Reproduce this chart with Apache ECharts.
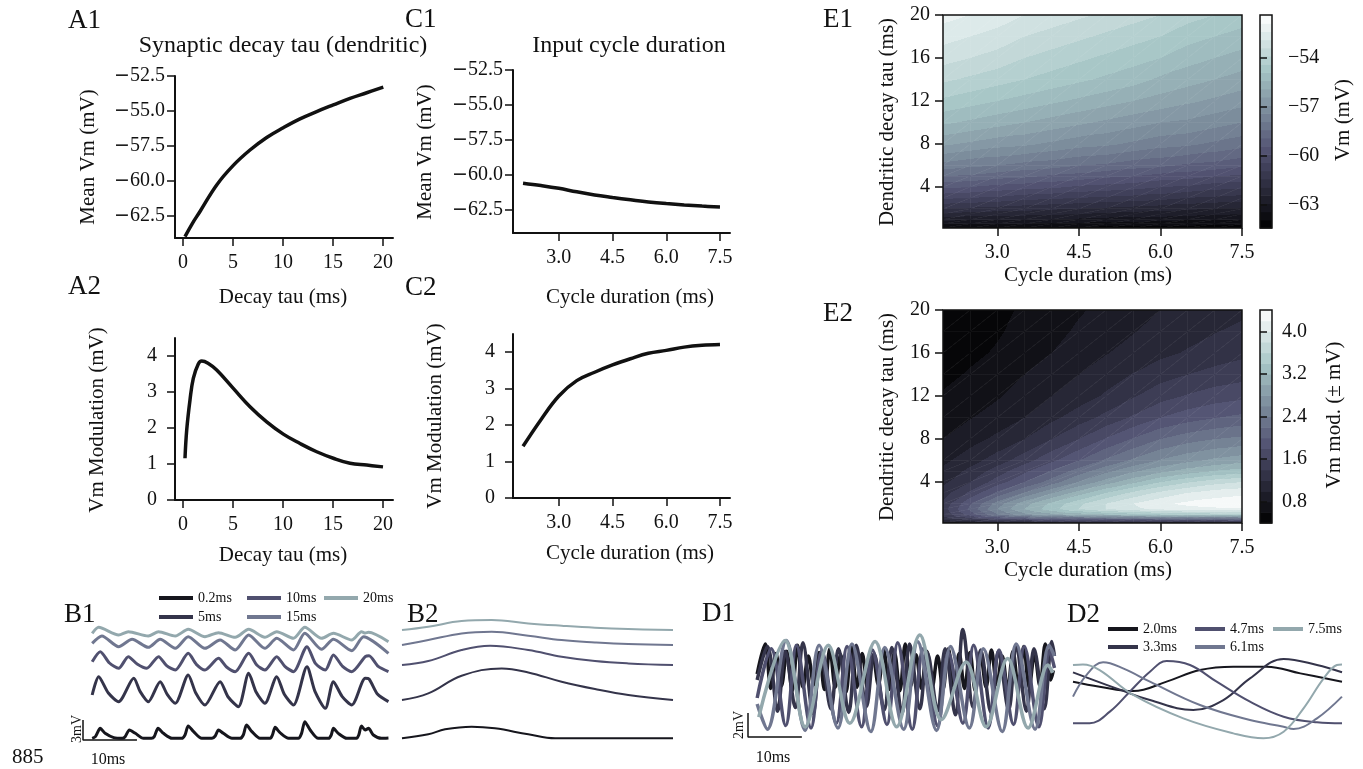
<!DOCTYPE html>
<html>
<head>
<meta charset="utf-8">
<script src="https://cdn.jsdelivr.net/npm/echarts@6.0.0/dist/echarts.min.js"></script>
<style>
  html, body { margin: 0; padding: 0; background: #fff; }
  #chart { width: 1363px; height: 769px; }
</style>
</head>
<body>
<div id="chart"></div>
<script>
const serif = '"Liberation Serif", "DejaVu Serif", serif'
const ink = '#111'

// A1 / A2 : sweep of dendritic decay tau
const tauA1 = [0.2, 0.9, 1.7, 3.37, 5.03, 6.7, 8.37, 10.03, 11.7, 13.37, 15.03, 16.7, 18.37, 20.03]
const meanVmA1 = [-64.0, -63.1, -62.2, -60.3, -58.9, -57.8, -56.9, -56.2, -55.57, -55.05, -54.57, -54.1, -53.7, -53.3]
const tauA2 = [0.2, 0.37, 0.7, 1.03, 1.53, 1.87, 2.5, 3.37, 5.03, 6.7, 8.37, 10.03, 11.7, 13.37, 15.03, 16.7, 18.37, 20.0]
const modA2 = [1.16, 1.94, 2.78, 3.38, 3.78, 3.86, 3.8, 3.61, 3.1, 2.59, 2.17, 1.83, 1.57, 1.34, 1.16, 1.02, 0.97, 0.92]

// C1 / C2 : sweep of input cycle duration
const cycleC = [2.0, 2.5, 3.0, 3.5, 4.0, 4.5, 5.0, 5.5, 6.0, 6.5, 7.0, 7.5]
const meanVmC1 = [-60.58, -60.75, -60.95, -61.2, -61.42, -61.6, -61.77, -61.92, -62.04, -62.14, -62.22, -62.28]
const modC2 = [1.42, 2.15, 2.8, 3.22, 3.45, 3.65, 3.82, 3.97, 4.05, 4.14, 4.19, 4.21]

// E1 / E2 : contour maps, rows go from tau 0.2 (bottom) up to tau 20 (top)
const cycleE = [2.0, 2.5, 3.0, 3.5, 4.0, 4.5, 5.0, 5.5, 6.0, 6.5, 7.0, 7.5]
const tauE = [0.2, 0.6, 1, 1.5, 2, 3, 4, 5, 6, 8, 10, 12, 14, 16, 18, 20]
const vmE1 = [
  [-63.9, -63.9, -64.0, -64.0, -64.0, -64.0, -64.1, -64.1, -64.1, -64.1, -64.2, -64.2],
  [-63.3, -63.3, -63.4, -63.4, -63.5, -63.5, -63.6, -63.6, -63.7, -63.7, -63.8, -63.8],
  [-62.7, -62.8, -62.8, -62.9, -62.9, -63.0, -63.1, -63.1, -63.2, -63.3, -63.3, -63.4],
  [-62.0, -62.1, -62.2, -62.2, -62.3, -62.4, -62.5, -62.6, -62.6, -62.7, -62.8, -62.9],
  [-61.4, -61.5, -61.6, -61.7, -61.8, -61.9, -62.0, -62.1, -62.2, -62.3, -62.4, -62.5],
  [-60.3, -60.4, -60.5, -60.7, -60.8, -60.9, -61.0, -61.1, -61.2, -61.4, -61.5, -61.6],
  [-59.3, -59.4, -59.6, -59.7, -59.8, -60.0, -60.1, -60.2, -60.4, -60.5, -60.7, -60.8],
  [-58.4, -58.5, -58.7, -58.8, -59.0, -59.1, -59.3, -59.4, -59.6, -59.7, -59.9, -60.0],
  [-57.6, -57.8, -57.9, -58.1, -58.2, -58.4, -58.5, -58.7, -58.8, -59.0, -59.1, -59.3],
  [-56.3, -56.5, -56.7, -56.8, -57.0, -57.2, -57.3, -57.5, -57.7, -57.8, -58.0, -58.2],
  [-55.3, -55.5, -55.7, -55.9, -56.1, -56.3, -56.5, -56.7, -56.9, -57.0, -57.2, -57.4],
  [-54.5, -54.7, -54.9, -55.1, -55.3, -55.5, -55.7, -55.9, -56.1, -56.3, -56.5, -56.7],
  [-53.8, -54.0, -54.2, -54.4, -54.6, -54.8, -55.0, -55.2, -55.5, -55.7, -55.9, -56.1],
  [-53.2, -53.4, -53.6, -53.9, -54.1, -54.3, -54.5, -54.7, -54.9, -55.2, -55.4, -55.6],
  [-52.7, -52.9, -53.1, -53.4, -53.6, -53.8, -54.0, -54.2, -54.4, -54.7, -54.9, -55.1],
  [-52.2, -52.4, -52.6, -52.9, -53.1, -53.3, -53.5, -53.7, -53.9, -54.2, -54.4, -54.6]
]
const modE2 = [
  [0.90, 0.95, 1.00, 1.05, 1.08, 1.10, 1.12, 1.13, 1.15, 1.16, 1.18, 1.20],
  [1.30, 1.55, 1.80, 1.95, 2.05, 2.10, 2.15, 2.18, 2.20, 2.22, 2.23, 2.25],
  [1.45, 1.90, 2.40, 2.75, 2.95, 3.10, 3.22, 3.32, 3.40, 3.45, 3.50, 3.52],
  [1.50, 2.05, 2.60, 3.00, 3.32, 3.60, 3.80, 3.95, 4.05, 4.12, 4.16, 4.18],
  [1.45, 1.98, 2.50, 2.92, 3.25, 3.55, 3.80, 4.00, 4.15, 4.25, 4.30, 4.32],
  [1.30, 1.65, 2.05, 2.42, 2.78, 3.10, 3.40, 3.65, 3.85, 4.00, 4.10, 4.15],
  [1.15, 1.40, 1.70, 2.00, 2.30, 2.62, 2.90, 3.15, 3.40, 3.58, 3.72, 3.80],
  [1.05, 1.26, 1.50, 1.76, 2.03, 2.30, 2.55, 2.77, 2.95, 3.10, 3.22, 3.30],
  [0.95, 1.12, 1.30, 1.52, 1.76, 2.00, 2.24, 2.44, 2.62, 2.75, 2.85, 2.92],
  [0.80, 0.92, 1.05, 1.20, 1.40, 1.60, 1.82, 2.02, 2.20, 2.32, 2.40, 2.45],
  [0.70, 0.79, 0.88, 1.00, 1.15, 1.30, 1.46, 1.63, 1.80, 1.91, 1.99, 2.05],
  [0.62, 0.70, 0.78, 0.89, 1.00, 1.10, 1.23, 1.38, 1.52, 1.62, 1.70, 1.75],
  [0.55, 0.62, 0.70, 0.80, 0.90, 1.00, 1.10, 1.21, 1.32, 1.40, 1.47, 1.52],
  [0.50, 0.56, 0.62, 0.71, 0.80, 0.90, 0.99, 1.07, 1.15, 1.22, 1.29, 1.35],
  [0.45, 0.51, 0.58, 0.66, 0.74, 0.83, 0.91, 0.99, 1.07, 1.13, 1.19, 1.25],
  [0.42, 0.48, 0.55, 0.63, 0.70, 0.78, 0.85, 0.92, 1.00, 1.05, 1.10, 1.15]
]

// B1 : example traces per decay tau, [ms, mV]
const tauNames = ['0.2ms', '5ms', '10ms', '15ms', '20ms']
const b1Tau02 = [[0, 1.0], [0.6, 1.25], [1.5, 2.5], [2.4, 1.75], [4.0, 1.1], [5.6, 1.0], [6.1, 1.25], [6.9, 2.25], [8.0, 1.75], [9.5, 1.0], [11.0, 1.0], [11.5, 1.25], [12.2, 2.5], [13.2, 1.75], [14.8, 1.0], [16.6, 1.0], [17.2, 1.5], [17.8, 2.85], [18.8, 2.0], [20.3, 1.0], [22.2, 1.0], [22.8, 1.35], [23.4, 2.25], [24.3, 1.75], [25.9, 1.0], [27.4, 1.0], [28.0, 1.5], [28.6, 3.0], [29.6, 2.0], [31.1, 1.0], [33.0, 1.0], [33.4, 1.5], [33.9, 2.65], [34.8, 1.85], [36.4, 1.0], [38.2, 1.0], [38.8, 1.75], [39.4, 3.5], [40.4, 2.25], [41.9, 1.0], [43.8, 1.0], [44.3, 1.5], [44.7, 2.5], [45.6, 1.75], [47.2, 1.0], [49.0, 1.0], [49.4, 1.5], [49.9, 2.85], [50.6, 2.25], [51.2, 2.5], [52.1, 1.5], [53.6, 1.0], [54.9, 1.05]]
const b1Tau5 = [[0, 7.5], [1.2, 10.25], [3.0, 7.8], [4.9, 6.5], [7.7, 10.0], [8.9, 8.0], [10.4, 6.5], [12.6, 9.5], [13.9, 7.6], [15.4, 6.25], [17.8, 10.5], [19.2, 7.8], [20.9, 6.0], [23.7, 9.5], [25.2, 7.2], [27.1, 5.75], [29.0, 10.75], [30.4, 7.9], [32.0, 6.25], [34.2, 10.25], [35.6, 7.6], [37.3, 6.0], [39.8, 11.75], [41.3, 8.0], [43.2, 5.5], [44.7, 9.5], [46.3, 7.3], [48.1, 6.0], [50.6, 10.0], [51.3, 9.9], [52.9, 7.6], [54.9, 6.5]]
const b1Tau10 = [[0, 12.5], [1.5, 14.0], [3.2, 12.3], [4.9, 11.5], [6.7, 13.25], [8.4, 12.1], [10.1, 11.5], [12.3, 13.25], [13.8, 11.9], [15.4, 11.25], [17.8, 13.75], [19.3, 12.1], [20.9, 11.25], [23.4, 13.0], [24.9, 11.7], [26.5, 11.0], [29.0, 13.75], [30.5, 12.0], [32.0, 11.25], [34.2, 13.25], [35.7, 11.8], [37.3, 11.0], [39.8, 14.75], [41.4, 12.2], [43.2, 11.25], [44.7, 13.5], [46.4, 11.8], [48.1, 11.0], [50.6, 13.25], [51.3, 13.4], [53.0, 11.8], [54.9, 11.0]]
const b1Tau15 = [[0, 15.25], [1.8, 16.35], [4.9, 14.75], [7.4, 15.85], [10.4, 14.65], [12.6, 15.85], [15.4, 14.5], [17.8, 16.25], [20.9, 14.5], [23.7, 15.75], [26.5, 14.25], [29.0, 16.5], [32.0, 14.5], [34.2, 16.0], [37.3, 14.25], [39.4, 16.75], [42.5, 14.35], [44.7, 15.85], [48.1, 14.15], [50.3, 16.25], [54.9, 13.75]]
const b1Tau20 = [[0, 16.75], [1.2, 17.65], [4.9, 16.5], [6.7, 17.0], [10.4, 16.35], [12.3, 17.0], [15.4, 16.35], [17.8, 17.35], [20.9, 16.25], [23.4, 16.85], [26.5, 16.15], [29.0, 17.35], [32.0, 16.15], [34.2, 17.0], [37.3, 16.0], [39.4, 17.65], [42.5, 16.0], [44.7, 16.75], [48.1, 15.75], [49.9, 17.0], [50.6, 16.8], [51.2, 16.9], [54.9, 15.5]]
const b1ScaleBar = [[-1.7, 3.75], [-1.7, 0.75], [8.3, 0.75]]

// B2 : cycle averaged waveforms, [% of cycle, mV]
const b2Tau02 = [[0, 1.0], [9.7, 1.6], [15.9, 2.35], [25.7, 2.75], [34.3, 2.5], [46.6, 1.6], [56.5, 1.0], [71.2, 1.0], [100, 1.0]]
const b2Tau5 = [[0, 6.75], [9.7, 7.74], [22.0, 10.39], [36.8, 11.49], [46.6, 10.89], [58.9, 9.49], [71.2, 8.39], [83.5, 7.49], [100, 6.75]]
const b2Tau10 = [[0, 11.99], [9.7, 12.59], [22.0, 14.24], [32.5, 14.89], [46.6, 14.24], [58.9, 13.24], [71.2, 12.59], [83.5, 12.24], [100, 11.99]]
const b2Tau15 = [[0, 14.99], [9.7, 15.74], [22.0, 16.74], [33.1, 16.99], [46.6, 16.39], [58.9, 15.74], [71.2, 15.39], [83.5, 15.14], [100, 14.99]]
const b2Tau20 = [[0, 17.24], [9.7, 17.74], [22.0, 18.59], [33.1, 18.74], [46.6, 18.24], [58.9, 17.89], [71.2, 17.59], [83.5, 17.39], [100, 17.24]]

// D1 : example traces per cycle duration, [ms, mV]
const cycleNames = ['2.0ms', '3.3ms', '4.7ms', '6.1ms', '7.5ms']
const d1Cyc20 = [[0, 5.5], [1.5, 8.0], [2.5, 4.3], [3.5, 7.2], [4.5, 4.5], [5.5, 7.4], [6.5, 4.1], [7.5, 7.9], [8.5, 4.4], [9.5, 7.0], [10.5, 4.6], [11.5, 7.3], [12.5, 4.2], [13.5, 7.6], [14.5, 4.4], [15.5, 7.1], [16.5, 4.0], [17.5, 7.8], [18.5, 4.4], [19.5, 7.2], [20.5, 4.3], [21.5, 7.0], [22.5, 4.6], [23.5, 7.5], [24.5, 4.2], [25.5, 7.3], [26.5, 4.1], [27.5, 8.0], [28.5, 4.5], [29.5, 7.1], [30.5, 4.3], [31.5, 7.4], [32.5, 4.4], [33.5, 7.0], [34.5, 4.2], [35.5, 7.6], [36.5, 4.5], [37.5, 7.2], [38.5, 4.3], [39.5, 7.3], [40.5, 4.1], [41.5, 7.1], [42.5, 4.4], [43.5, 7.5], [44.5, 4.6], [45.5, 7.0], [46.5, 4.2], [47.5, 7.4], [48.5, 4.3], [49.5, 7.8], [50.5, 4.4], [51.5, 7.2], [52.5, 4.5], [53.5, 8.0], [54.5, 5.0], [55.0, 5.8]]
const d1Cyc33 = [[0, 5.0], [1.9, 7.8], [3.8, 2.4], [5.2, 7.4], [7.1, 2.7], [8.5, 8.1], [10.4, 2.2], [11.8, 7.3], [13.7, 2.6], [15.1, 7.6], [17.0, 2.3], [18.4, 7.9], [20.3, 2.8], [21.7, 7.2], [23.6, 2.5], [25.0, 7.7], [26.9, 2.2], [28.3, 8.0], [30.2, 2.6], [31.6, 7.3], [33.5, 2.4], [34.9, 7.6], [36.8, 2.1], [38.2, 9.2], [40.1, 2.7], [41.5, 7.5], [43.4, 2.3], [44.8, 7.4], [46.7, 2.5], [48.1, 7.8], [50.0, 2.4], [51.4, 7.6], [53.3, 2.6], [54.7, 8.2], [55.2, 7.0]]
const d1Cyc47 = [[0, 3.5], [2.6, 7.6], [5.3, 1.2], [7.3, 7.9], [10.0, 1.0], [12.0, 7.4], [14.7, 1.4], [16.7, 7.8], [19.4, 1.1], [21.4, 7.5], [24.1, 1.3], [26.1, 8.1], [28.8, 0.9], [30.8, 7.6], [33.5, 1.2], [35.5, 7.3], [38.2, 1.4], [40.2, 7.9], [42.9, 1.0], [44.9, 7.5], [47.6, 1.3], [49.6, 7.8], [52.3, 1.1], [54.3, 7.4], [55.2, 6.0]]
const d1Cyc61 = [[0, 3.0], [1.9, 0.9], [5.4, 8.3], [8.9, 0.8], [11.5, 7.9], [15.0, 1.0], [17.6, 8.0], [21.1, 0.7], [23.7, 7.7], [27.2, 0.9], [29.8, 8.2], [33.3, 0.8], [35.9, 7.8], [39.4, 1.0], [42.0, 7.6], [45.5, 0.7], [48.1, 8.0], [51.6, 0.9], [54.2, 7.9], [55.2, 7.0]]
const d1Cyc75 = [[0.3, 1.9], [5.2, 8.3], [8.9, 1.1], [13.2, 7.9], [17.2, 1.4], [21.9, 8.2], [25.9, 1.1], [30.2, 8.75], [34.2, 1.7], [38.8, 6.5], [42.5, 1.1], [46.5, 6.8], [50.3, 1.0], [54.0, 6.25], [54.9, 5.6]]
const d1ScaleBar = [[-1.7, 2.25], [-1.7, 0.25], [8.3, 0.25]]

// D2 : one cycle per duration, [% of cycle, mV]
const d2Cyc20 = [[0, 5.28], [9.9, 4.86], [22.4, 4.5], [34.8, 5.28], [47.2, 6.25], [59.6, 6.53], [72.0, 6.53], [84.5, 5.97], [100, 5.28]]
const d2Cyc33 = [[0, 6.06], [16.1, 4.72], [28.6, 3.75], [44.7, 2.92], [55.9, 3.75], [65.8, 5.56], [78.3, 7.17], [90.7, 6.67], [100, 6.06]]
const d2Cyc47 = [[0, 1.81], [6.2, 1.81], [13.7, 2.78], [21.1, 4.44], [28.6, 6.11], [34.8, 7.0], [43.5, 6.67], [53.4, 5.28], [65.8, 3.61], [78.3, 2.36], [90.7, 1.89], [100, 1.81]]
const d2Cyc61 = [[0, 4.03], [5.0, 5.83], [11.2, 6.89], [18.6, 6.39], [28.6, 5.28], [47.2, 3.33], [65.8, 2.08], [78.3, 1.53], [82.0, 1.33], [90.7, 2.22], [100, 4.03]]
const d2Cyc75 = [[0, 6.67], [3.7, 6.72], [9.9, 6.25], [22.4, 4.17], [41.0, 2.22], [59.6, 0.97], [70.8, 0.56], [78.3, 1.11], [85.7, 3.06], [93.2, 5.56], [98.1, 6.67], [100, 6.72]]

const traceColors = ['#16161d', '#34344a', '#50506f', '#707790', '#93a8ad']

// matplotlib "bone" colormap
function bone(t) {
  t = Math.max(0, Math.min(1, t))
  const r = t < 0.746032 ? 0.652778 * t / 0.746032 : 0.652778 + 0.347222 * (t - 0.746032) / 0.253968
  const g = t < 0.365079 ? 0.319444 * t / 0.365079
    : t < 0.746032 ? 0.319444 + 0.458334 * (t - 0.365079) / 0.380953
      : 0.777778 + 0.222222 * (t - 0.746032) / 0.253968
  const b = t < 0.365079 ? 0.444444 * t / 0.365079 : 0.444444 + 0.555556 * (t - 0.365079) / 0.634921
  return `rgb(${Math.round(r * 255)},${Math.round(g * 255)},${Math.round(b * 255)})`
}

// contour levels (colour bands)
const e1Levels = { lo: -64.4, step: 0.5, n: 26 }
const e2Levels = { lo: 0.4, step: 0.2, n: 20 }

function levelIndex(v, lv) {
  return Math.max(0, Math.min(lv.n - 1, Math.floor((v - lv.lo) / lv.step)))
}
function bandColor(k, lv) {
  return bone((k + 0.5) / lv.n)
}
function clamp01(o) {
  return Math.max(0, Math.min(1, o))
}

// one triangle of the contour map: filled with hard-stepped level colours
function bandedTriangle(p, v, lv) {
  const [x1, y1] = p[0]
  const [x2, y2] = p[1]
  const [x3, y3] = p[2]
  const d = (x2 - x1) * (y3 - y1) - (x3 - x1) * (y2 - y1)
  const a = ((v[1] - v[0]) * (y3 - y1) - (v[2] - v[0]) * (y2 - y1)) / d
  const b = ((x2 - x1) * (v[2] - v[0]) - (x3 - x1) * (v[1] - v[0])) / d
  const g2 = a * a + b * b
  const vmin = Math.min(...v)
  const vmax = Math.max(...v)
  let fill
  if (!isFinite(g2) || g2 < 1e-14 || vmax - vmin < 1e-9) {
    fill = bandColor(levelIndex(v[0], lv), lv)
  } else {
    const s = p[v.indexOf(vmin)]
    const t = (vmax - vmin) / g2
    const kLo = levelIndex(vmin, lv)
    const kHi = levelIndex(vmax, lv)
    const stops = [{ offset: 0, color: bandColor(kLo, lv) }]
    for (let k = kLo + 1; k <= kHi; k++) {
      const o = clamp01((lv.lo + k * lv.step - vmin) / (vmax - vmin))
      stops.push({ offset: o, color: bandColor(k - 1, lv) }, { offset: o, color: bandColor(k, lv) })
    }
    stops.push({ offset: 1, color: bandColor(kHi, lv) })
    fill = new echarts.graphic.LinearGradient(s[0], s[1], s[0] + t * a, s[1] + t * b, stops, true)
  }
  return { type: 'polygon', shape: { points: p }, style: { fill, stroke: fill, lineWidth: 0.6 } }
}

function contourSeries(gi, xs, ys, values, lv) {
  const data = []
  for (let j = 0; j < ys.length - 1; j++) {
    for (let i = 0; i < xs.length - 1; i++) data.push([xs[i], ys[j], i, j])
  }
  return {
    type: 'custom', xAxisIndex: gi, yAxisIndex: gi, data, clip: true, silent: true,
    renderItem: (params, api) => {
      const i = api.value(2)
      const j = api.value(3)
      const corners = [[i, j], [i + 1, j], [i + 1, j + 1], [i, j + 1]]
      const pts = corners.map(c => api.coord([xs[c[0]], ys[c[1]]]))
      const vals = corners.map(c => values[c[1]][c[0]])
      return {
        type: 'group',
        children: [
          bandedTriangle([pts[0], pts[1], pts[2]], [vals[0], vals[1], vals[2]], lv),
          bandedTriangle([pts[0], pts[2], pts[3]], [vals[0], vals[2], vals[3]], lv)
        ]
      }
    }
  }
}

function colorbarSeries(gi, lv) {
  const data = []
  for (let k = 0; k < lv.n; k++) data.push([0.5, lv.lo + (k + 0.5) * lv.step, k])
  return {
    type: 'custom', xAxisIndex: gi, yAxisIndex: gi, data, silent: true,
    renderItem: (params, api) => {
      const k = api.value(2)
      const p0 = api.coord([0, lv.lo + (k + 1) * lv.step])
      const p1 = api.coord([1, lv.lo + k * lv.step])
      return {
        type: 'rect',
        shape: { x: p0[0], y: p0[1], width: p1[0] - p0[0], height: p1[1] - p0[1] + 0.6 },
        style: { fill: bandColor(k, lv) }
      }
    }
  }
}

const axisLine = { show: true, onZero: false, lineStyle: { color: ink, width: 2 } }

function mkAxis(gridIndex, min, max, ticks, fmt, margin, extra) {
  return Object.assign({
    type: 'value', gridIndex, min, max,
    axisLine,
    axisTick: { show: true, length: 8, customValues: ticks, lineStyle: { color: ink, width: 1.5 } },
    axisLabel: {
      customValues: ticks, formatter: fmt, margin, color: ink, fontSize: 20, fontFamily: serif,
      rich: { m: { fontFamily: 'DejaVu Sans', fontSize: 19, color: ink } }
    },
    splitLine: { show: false }
  }, extra || {})
}

function hiddenAxis(gridIndex, min, max) {
  return { type: 'value', gridIndex, min, max, show: false, splitLine: { show: false } }
}

function pairs(xs, ys) {
  return xs.map((x, i) => [x, ys[i]])
}

function curve(gi, data) {
  return {
    type: 'line', xAxisIndex: gi, yAxisIndex: gi, data, symbol: 'none', silent: true,
    smooth: 0.4, lineStyle: { color: ink, width: 3.5 }
  }
}

function trace(gi, name, color, data, width, smooth) {
  return {
    type: 'line', name, xAxisIndex: gi, yAxisIndex: gi, data, symbol: 'none', silent: true,
    smooth, itemStyle: { color }, lineStyle: { color, width, join: 'round' }
  }
}

function scaleBar(gi, data) {
  return {
    type: 'line', xAxisIndex: gi, yAxisIndex: gi, data, symbol: 'none', silent: true, clip: false,
    lineStyle: { color: ink, width: 1.5 }
  }
}

function legendItem(name, left, rowY, w) {
  return {
    data: [name], left, top: rowY - 8, padding: 0, itemWidth: w, itemHeight: 4, icon: 'rect',
    selectedMode: false, textStyle: { fontFamily: serif, fontSize: 14, lineHeight: 16, color: ink }
  }
}

function txt(s, x, y, size, align, rot) {
  return {
    type: 'text', x, y, rotation: rot || 0, silent: true,
    style: { text: s, fontFamily: serif, fontSize: size, fill: ink, align: align || 'center', verticalAlign: 'middle' }
  }
}

const frame = { show: true, borderColor: ink, borderWidth: 1.5, z: 10 }
const grids = [
  { left: 175, top: 76, width: 218, height: 162 },               // A1
  { left: 175, top: 338, width: 218, height: 162 },              // A2
  { left: 513, top: 70, width: 217, height: 163 },               // C1
  { left: 513, top: 334, width: 217, height: 164 },              // C2
  Object.assign({ left: 943, top: 15, width: 299, height: 213 }, frame),   // E1
  Object.assign({ left: 943, top: 310, width: 299, height: 213 }, frame),  // E2
  Object.assign({ left: 1260, top: 15, width: 12, height: 213 }, frame),   // E1 colorbar
  Object.assign({ left: 1260, top: 310, width: 12, height: 213 }, frame),  // E2 colorbar
  { left: 83, top: 615, width: 306, height: 130 },               // B1
  { left: 402, top: 615, width: 271, height: 130 },              // B2
  { left: 748, top: 620, width: 307, height: 120 },              // D1
  { left: 1073, top: 650, width: 269, height: 95 }               // D2
].map(g => Object.assign({ outerBoundsMode: 'none', containLabel: false }, g))

const intFmt = v => String(v)
const oneFmt = v => v.toFixed(1)
const wideMinusFmt = v => (v < 0 ? '{m|\u2212}' : '') + Math.abs(v).toFixed(1)
const minusFmt = v => (v < 0 ? '\u2212' : '') + Math.abs(v).toFixed(0)
const eTicksX = [3, 4.5, 6, 7.5]
const eTicksY = [4, 8, 12, 16, 20]

const xAxis = [
  mkAxis(0, -0.8, 21, [0, 5, 10, 15, 20], intFmt, 15),
  mkAxis(1, -0.8, 21, [0, 5, 10, 15, 20], intFmt, 15),
  mkAxis(2, 1.72, 7.78, eTicksX, oneFmt, 15),
  mkAxis(3, 1.72, 7.78, eTicksX, oneFmt, 15),
  mkAxis(4, 2.0, 7.5, eTicksX, oneFmt, 15, { axisLine: { show: false }, z: 10 }),
  mkAxis(5, 2.0, 7.5, eTicksX, oneFmt, 15, { axisLine: { show: false }, z: 10 }),
  hiddenAxis(6, 0, 1),
  hiddenAxis(7, 0, 1),
  hiddenAxis(8, -1.7, 55),
  hiddenAxis(9, 0, 100),
  hiddenAxis(10, -1.7, 55.3),
  hiddenAxis(11, 0, 100)
]

const yAxis = [
  mkAxis(0, -64.1, -52.5, [-62.5, -60, -57.5, -55, -52.5], wideMinusFmt, 10),
  mkAxis(1, 0, 4.5, [0, 1, 2, 3, 4], intFmt, 18),
  mkAxis(2, -64.14, -52.5, [-62.5, -60, -57.5, -55, -52.5], wideMinusFmt, 10),
  mkAxis(3, 0, 4.5, [0, 1, 2, 3, 4], intFmt, 18),
  mkAxis(4, 0.2, 20, eTicksY, intFmt, 13, { axisLine: { show: false }, z: 10 }),
  mkAxis(5, 0.2, 20, eTicksY, intFmt, 13, { axisLine: { show: false }, z: 10 }),
  mkAxis(6, e1Levels.lo, e1Levels.lo + e1Levels.n * e1Levels.step, [-63, -60, -57, -54], minusFmt, 16,
    { position: 'right', axisLine: { show: false }, z: 10 }),
  mkAxis(7, e2Levels.lo, e2Levels.lo + e2Levels.n * e2Levels.step, [0.8, 1.6, 2.4, 3.2, 4.0], oneFmt, 10,
    { position: 'right', axisLine: { show: false }, z: 10 }),
  hiddenAxis(8, 0, 19.5),
  hiddenAxis(9, 0, 19.5),
  hiddenAxis(10, 0, 10),
  hiddenAxis(11, 0, 7.92)
]
yAxis[6].axisTick.length = 7
yAxis[7].axisTick.length = 7

const b1Data = [b1Tau02, b1Tau5, b1Tau10, b1Tau15, b1Tau20]
const b2Data = [b2Tau02, b2Tau5, b2Tau10, b2Tau15, b2Tau20]
const d1Data = [d1Cyc20, d1Cyc33, d1Cyc47, d1Cyc61, d1Cyc75]
const d2Data = [d2Cyc20, d2Cyc33, d2Cyc47, d2Cyc61, d2Cyc75]

const series = [
  curve(0, pairs(tauA1, meanVmA1)),
  curve(1, pairs(tauA2, modA2)),
  curve(2, pairs(cycleC, meanVmC1)),
  curve(3, pairs(cycleC, modC2)),
  contourSeries(4, cycleE, tauE, vmE1, e1Levels),
  contourSeries(5, cycleE, tauE, modE2, e2Levels),
  colorbarSeries(6, e1Levels),
  colorbarSeries(7, e2Levels),
  scaleBar(8, b1ScaleBar),
  scaleBar(10, d1ScaleBar)
]
tauNames.forEach((n, k) => {
  series.push(trace(8, n, traceColors[k], b1Data[k], 3, 0.25))
  series.push(trace(9, n, traceColors[k], b2Data[k], 2, 0.4))
})
cycleNames.forEach((n, k) => {
  series.push(trace(10, n, traceColors[k], d1Data[k], 3.5, 0.35))
  series.push(trace(11, n, traceColors[k], d2Data[k], 2, 0.4))
})

const legend = [
  legendItem('0.2ms', 159, 598, 34), legendItem('5ms', 159, 617, 34),
  legendItem('10ms', 247, 598, 34), legendItem('15ms', 247, 617, 34),
  legendItem('20ms', 324, 598, 34),
  legendItem('2.0ms', 1108, 629, 30), legendItem('3.3ms', 1108, 647, 30),
  legendItem('4.7ms', 1195, 629, 30), legendItem('6.1ms', 1195, 647, 30),
  legendItem('7.5ms', 1273, 629, 30)
]

const rot = Math.PI / 2
const graphic = [
  txt('A1', 68, 21, 27, 'left'), txt('A2', 68, 287, 27, 'left'),
  txt('C1', 405, 20, 27, 'left'), txt('C2', 405, 288, 27, 'left'),
  txt('E1', 823, 20, 27, 'left'), txt('E2', 823, 314, 27, 'left'),
  txt('B1', 64, 615, 27, 'left'), txt('B2', 407, 615, 27, 'left'),
  txt('D1', 702, 614, 27, 'left'), txt('D2', 1067, 615, 27, 'left'),
  txt('Synaptic decay tau (dendritic)', 283, 46, 24),
  txt('Input cycle duration', 629, 46, 24),
  txt('Decay tau (ms)', 283, 297, 21), txt('Decay tau (ms)', 283, 555, 21),
  txt('Cycle duration (ms)', 630, 297, 21), txt('Cycle duration (ms)', 630, 553, 21),
  txt('Cycle duration (ms)', 1088, 275, 21), txt('Cycle duration (ms)', 1088, 570, 21),
  txt('Mean Vm (mV)', 88, 157, 21, 'center', rot), txt('Vm Modulation (mV)', 97, 420, 21, 'center', rot),
  txt('Mean Vm (mV)', 425, 152, 21, 'center', rot), txt('Vm Modulation (mV)', 435, 416, 21, 'center', rot),
  txt('Dendritic decay tau (ms)', 887, 122, 21, 'center', rot),
  txt('Dendritic decay tau (ms)', 887, 417, 21, 'center', rot),
  txt('Vm (mV)', 1343, 120, 21, 'center', rot),
  txt('Vm mod. (\u00b1 mV)', 1334, 415, 21, 'center', rot),
  txt('3mV', 77, 729, 14, 'center', rot), txt('10ms', 108, 760, 16),
  txt('2mV', 739, 725, 14, 'center', rot), txt('10ms', 773, 758, 16),
  txt('885', 12, 757, 21, 'left')
]

const chart = echarts.init(document.getElementById('chart'))
chart.setOption({
  animation: false,
  backgroundColor: '#fff',
  textStyle: { fontFamily: serif },
  grid: grids,
  xAxis,
  yAxis,
  legend,
  series,
  graphic
})
</script>
</body>
</html>
